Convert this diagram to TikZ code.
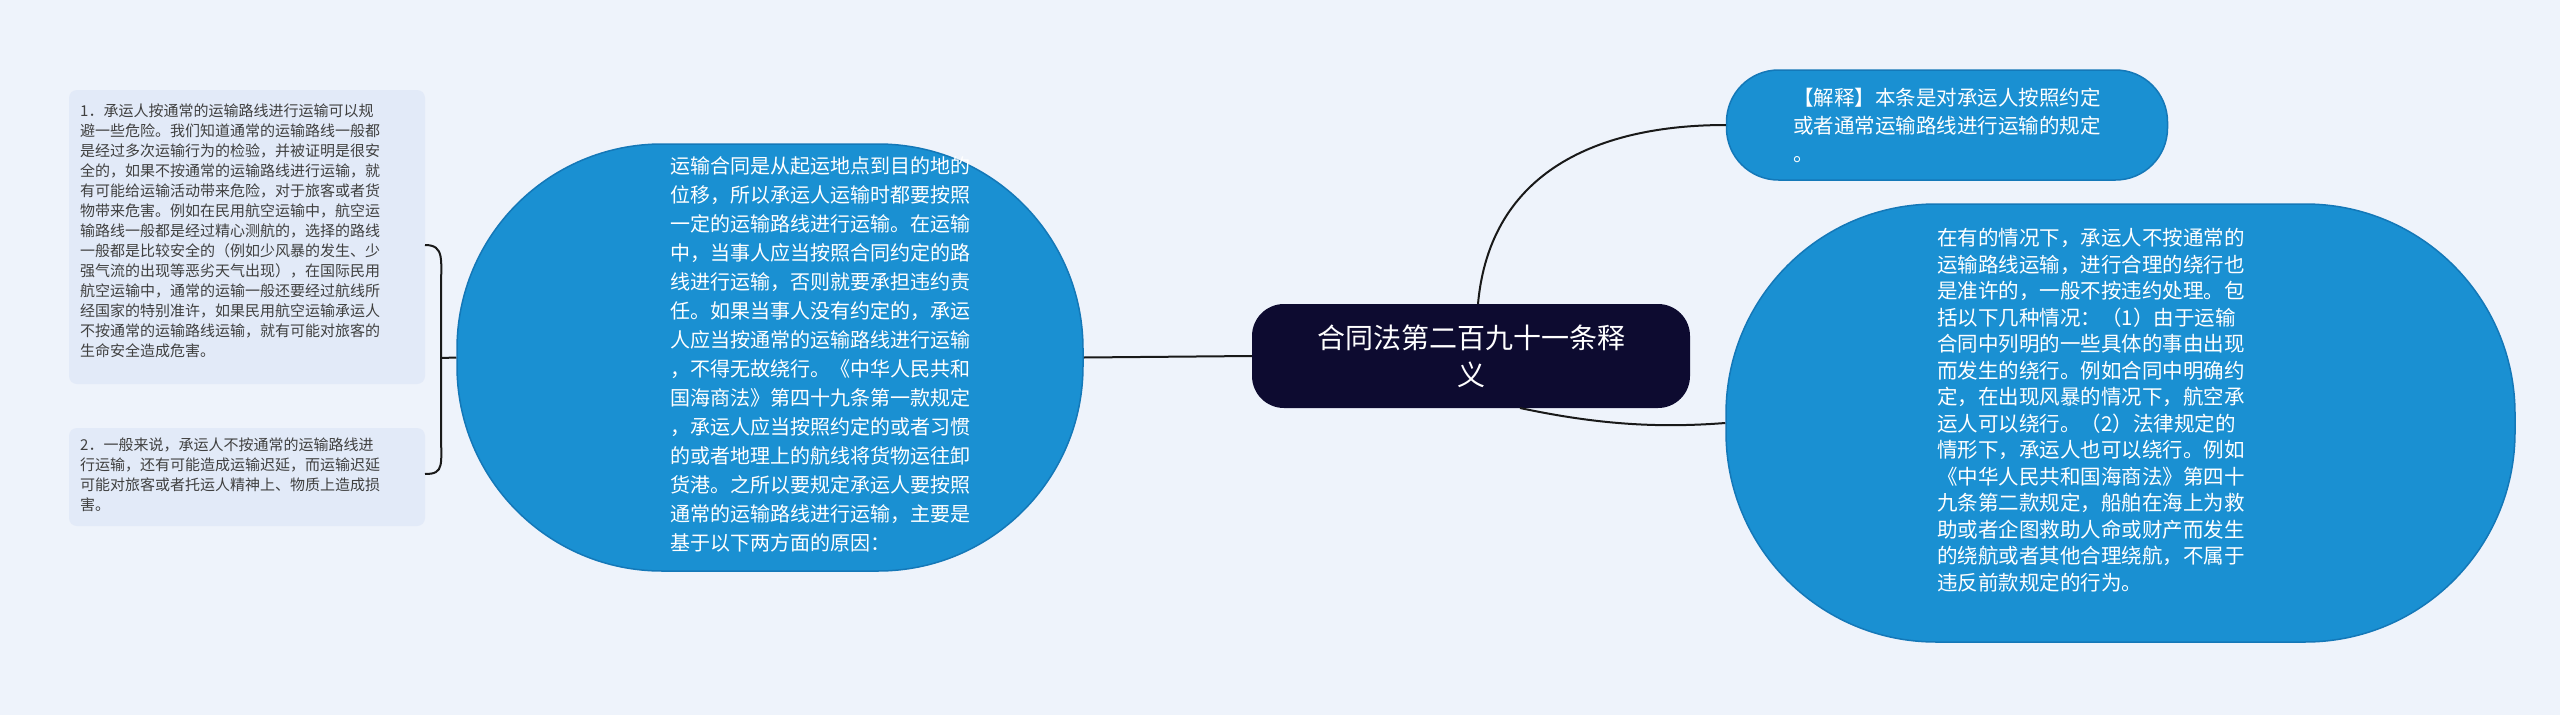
\documentclass[tikz,border=0pt]{standalone}
\usepackage{fontspec}
\setmainfont{Noto Sans CJK SC}
\begin{document}
\begin{tikzpicture}[x=1pt,y=-1pt,
  bluebox/.style={fill=blue1,draw=blue2,line width=1.5pt,text=white,align=left,inner sep=0pt},
  leftbox/.style={fill=lbox,rounded corners=8pt,align=left,text=black!75,inner sep=0pt,font=\fontsize{15}{20}\selectfont},
  link/.style={line width=2pt,draw=black!90}]
\definecolor{bg}{HTML}{EEF3FB}
\definecolor{blue1}{HTML}{1A90D2}
\definecolor{blue2}{HTML}{1478B8}
\definecolor{lbox}{HTML}{E2EAF8}
\definecolor{navy}{HTML}{0D0B30}
\fill[bg] (0,0) rectangle (2560,715);
\useasboundingbox (0,0) rectangle (2560,715);
% left boxes
\fill[lbox,rounded corners=8pt] (69,90) rectangle (425,384);
\node[leftbox,anchor=north west] (l1) at (80,104) {1．承运人按通常的运输路线进行运输可以规\\避一些危险。我们知道通常的运输路线一般都\\是经过多次运输行为的检验，并被证明是很安\\全的，如果不按通常的运输路线进行运输，就\\有可能给运输活动带来危险，对于旅客或者货\\物带来危害。例如在民用航空运输中，航空运\\输路线一般都是经过精心测航的，选择的路线\\一般都是比较安全的（例如少风暴的发生、少\\强气流的出现等恶劣天气出现），在国际民用\\航空运输中，通常的运输一般还要经过航线所\\经国家的特别准许，如果民用航空运输承运人\\不按通常的运输路线运输，就有可能对旅客的\\生命安全造成危害。};
\fill[lbox,rounded corners=8pt] (69,428) rectangle (425,526);
\node[leftbox,anchor=north west] (l2) at (80,438) {2．一般来说，承运人不按通常的运输路线进\\行运输，还有可能造成运输迟延，而运输迟延\\可能对旅客或者托运人精神上、物质上造成损\\害。};
% middle shape
\node[bluebox,rounded corners=205pt,minimum width=626pt,minimum height=427pt] (midbg) at (770,357.5) {};
\node[text=white,align=left,inner sep=0pt,font=\fontsize{20}{29}\selectfont,anchor=north west] (mid) at (670,156) {运输合同是从起运地点到目的地的\\位移，所以承运人运输时都要按照\\一定的运输路线进行运输。在运输\\中，当事人应当按照合同约定的路\\线进行运输，否则就要承担违约责\\任。如果当事人没有约定的，承运\\人应当按通常的运输路线进行运输\\，不得无故绕行。《中华人民共和\\国海商法》第四十九条第一款规定\\，承运人应当按照约定的或者习惯\\的或者地理上的航线将货物运往卸\\货港。之所以要规定承运人要按照\\通常的运输路线进行运输，主要是\\基于以下两方面的原因：};
% brace
\coordinate (bt) at (425,245);
\coordinate (bb) at (425,474);
\draw[link] (bt) .. controls (445,245) and (441,260) .. (441,290) -- (441,430) .. controls (441,465) and (445,474) .. (bb);
\draw[link] (441,358) -- (midbg.west);
% center
\node[fill=navy,rounded corners=32pt,minimum width=438pt,minimum height=104pt,text=white,align=center,font=\fontsize{28}{37}\selectfont] (c) at (1471,356) {合同法第二百九十一条释\\义};
\draw[link] (c.west) -- (midbg.east);
% top right
\node[bluebox,rounded corners=52pt,minimum width=441pt,minimum height=110pt,align=left,font=\fontsize{20.5}{28}\selectfont] (tr) at (1947,125) {【解释】本条是对承运人按照约定\\或者通常运输路线进行运输的规定\\。};
% right shape
\node[bluebox,rounded corners=210pt,minimum width=789pt,minimum height=438pt] (rebg) at (2120.5,423) {};
\node[text=white,align=left,inner sep=0pt,font=\fontsize{20.5}{26.5}\selectfont,anchor=north west] (re) at (1937,228) {在有的情况下，承运人不按通常的\\运输路线运输，进行合理的绕行也\\是准许的，一般不按违约处理。包\\括以下几种情况：（1）由于运输\\合同中列明的一些具体的事由出现\\而发生的绕行。例如合同中明确约\\定，在出现风暴的情况下，航空承\\运人可以绕行。（2）法律规定的\\情形下，承运人也可以绕行。例如\\《中华人民共和国海商法》第四十\\九条第二款规定，船舶在海上为救\\助或者企图救助人命或财产而发生\\的绕航或者其他合理绕航，不属于\\违反前款规定的行为。};
% links
\draw[link] (1478,304) .. controls (1490,170) and (1600,125) .. (tr.west);
\draw[link] (1520,408) .. controls (1600,425) and (1660,428) .. (rebg.west);
\end{tikzpicture}
\end{document}
